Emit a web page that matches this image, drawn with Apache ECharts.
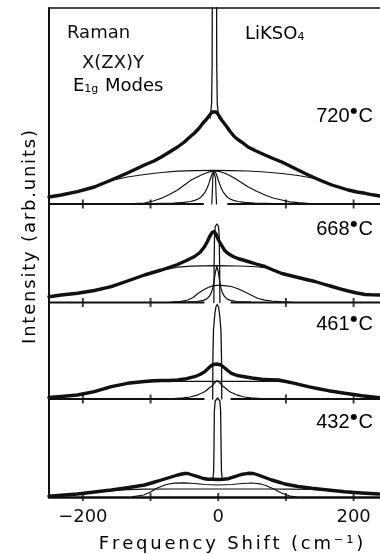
<!DOCTYPE html>
<html>
<head>
<meta charset="utf-8">
<script src="https://cdn.jsdelivr.net/npm/echarts@6/dist/echarts.min.js"></script>
<style>
html, body { margin: 0; padding: 0; background: #fff; }
#chart { width: 380px; height: 554px; }
</style>
</head>
<body>
<div id="chart"></div>
<script>
// Raman spectra of LiKSO4, E1g modes, stacked by temperature.
// Each spectrum is given as [frequency shift (cm-1), intensity above its own baseline].
const temperatures = ['720', '668', '461', '432'];
const baselineOffsets = [293, 194.5, 98, 0];
const baselineGaps = [[-22.5, 14.5], [-21.5, 19.5], [-21.5, 19.5], null];
const baselineTicks = [-200, -100, 100, 200];
const axisTicks = [-200, -100, 0, 100, 200];
const axisLabels = [-200, 0, 200];

// 720 C
const spectrum720 = [[-250,7],[-232,9],[-208,12.3],[-183,17],[-158,24],[-134,31],[-109,39],[-95,43],[-84,47],[-72,52],[-60,57],[-50,62],[-42,67],[-35,71],[-28,76],[-22.5,81],[-17,85],[-12.6,89],[-9,92],[-6.5,94],[-3,92],[0,89.5],[2.2,87],[5,84],[9.6,80],[14,76],[17,73],[24.4,67],[30,64],[36.7,61],[44,57],[56,53],[69,49],[81,45.5],[94,42],[106,38],[118,34],[130,30],[143,26],[155,22.5],[168,19],[180,16.5],[192,14],[205,12],[217,10.7],[228,9.2],[239,8]];
const spike720 = [[-12,86],[-9.8,100],[-9,140],[-8.6,260],[-5.6,262],[-2.6,260],[-2.2,140],[-1.4,100],[0.8,86]];
const broad720 = [[-250,7],[-232,9],[-208,12],[-183,17],[-158,23.5],[-134,27],[-109,29.5],[-84,31.5],[-60,32.8],[-35,33.4],[-6,33.6],[20,33.4],[44,33],[69,32],[94,30.5],[118,28.5],[143,25.5],[155,22],[168,19],[192,14],[217,10.5],[239,8]];
const medium720 = [[-125,0.3],[-109,1],[-96,3],[-84,5.7],[-72,9.5],[-60,14],[-50,19],[-40,24],[-25,29],[-15,31.8],[-6,33],[3,32.3],[9.6,30.7],[17,28.5],[24.4,25.7],[34,21.5],[44,17.3],[56,13],[69,9],[81,6],[94,4],[106,2.2],[118,1.3],[135,0.5],[155,0]];
const narrow720 = [[-96,0.4],[-66,0.9],[-51,1.6],[-41,2.5],[-36,3.3],[-31,4.6],[-26,6.6],[-22,9.5],[-19,12.4],[-16,16.5],[-14,20.1],[-12,24.3],[-9,30.3],[-6,33],[-3,30.3],[0,24.3],[2,20.1],[4,16.5],[7,12.4],[10,9.5],[14,6.6],[19,4.6],[24,3.3],[29,2.5],[39,1.6],[54,0.9],[84,0.4]];
const central720 = [[-9.5,0],[-8.8,10],[-8,26],[-7,32.5],[-6,34.5],[-5,32.5],[-4,26],[-3.2,10],[-2.5,0]];

// 668 C
const spectrum668 = [[-250,5.8],[-232,7.5],[-208,9.2],[-183,12],[-158,15.8],[-134,21.5],[-109,27.5],[-84,32.5],[-60,38],[-47,42],[-35,46],[-27,50],[-20,56],[-16,61],[-12.6,66],[-9,70],[-6,71],[-3,68],[0,63],[2.5,60],[4.7,57.5],[9.6,52],[14.6,49],[22,46],[29,44],[44,41],[56,38.5],[69,36],[81,32.5],[94,29],[106,27],[118,25],[130,23],[143,21],[155,18.5],[168,16],[180,13.7],[192,11.5],[205,9.5],[217,8],[228,7.6],[239,7.5]];
const spike668 = [[-6.5,0],[-6,40],[-5.5,65],[-4.5,76],[-2,78.5],[0.5,76],[1.5,65],[2,40],[2.5,0]];
const broad668 = [[-250,5.8],[-232,7.5],[-208,9.2],[-183,12],[-158,15.8],[-134,21.3],[-109,27],[-84,32],[-60,35.3],[-40,36.3],[-2,36.8],[30,36.5],[50,36],[69,35],[81,32.3],[94,29],[118,25],[143,21],[168,16],[192,11.5],[217,8],[239,7.5]];
const medium668 = [[-70,0.3],[-55,1.2],[-45,2.5],[-37,5],[-30,9],[-22,12.5],[-15,15],[-8,16.6],[-2,17.2],[5,17.2],[12,16.6],[19.5,16],[30,13.5],[44,9],[52,6.3],[59,4],[69,2.3],[79,1.5],[94,0.6],[110,0.2]];
const narrow668 = [[-52,0.4],[-32,1],[-22,2.1],[-17,3.6],[-13,6.2],[-10,10.1],[-8,14.8],[-6,22],[-4,31],[-2,36],[0,31],[2,22],[4,14.8],[6,10.1],[9,6.2],[13,3.6],[18,2.1],[28,1],[48,0.4]];

// 461 C
const spectrum461 = [[-250,1.5],[-232,2.5],[-208,4],[-183,7.3],[-158,12.3],[-134,15.7],[-109,17.5],[-96,18.3],[-84,18.5],[-72,18.5],[-60,19],[-47,20.3],[-35,22.3],[-27,24.5],[-20,27.3],[-15,30.5],[-11,33],[-7,34.5],[-2,35],[4,34],[9.6,31],[14,28.5],[19.5,25.7],[28,23.5],[39,22.3],[50,21],[64,19.7],[76,19.3],[88.6,19],[100,17.5],[113,15.7],[125,13.7],[138,11.7],[150,10],[163,8.3],[175,7],[187,5.7],[200,4.5],[212,3.3],[225,2.2],[239,1.2]];
const spike461 = [[-8.2,0],[-7.9,40],[-7,69],[-5,85],[-3.5,92],[-1.5,94.5],[0.5,92],[2,85],[4,69],[4.9,40],[5.2,0]];
const broad461 = [[-250,1.3],[-232,2.3],[-208,3.8],[-183,7],[-158,12],[-134,15.3],[-109,17],[-84,17.6],[-60,17.6],[-30,17.6],[-1.5,17.6],[30,17.6],[64,17.6],[88,17.5],[100,17],[113,15.5],[125,13.5],[138,11.5],[163,8.1],[187,5.5],[212,3.1],[239,1.1]];
const narrow461 = [[-91.5,0],[-66.5,0.5],[-51.5,1.2],[-41.5,2],[-31.5,3.8],[-27.5,5],[-21.5,6.8],[-17.5,8.5],[-13.5,11],[-9.5,13],[-5.5,16],[-1.5,18.5],[2.5,16],[6.5,13],[10.5,11],[14.5,8.5],[18.5,6.8],[24.5,5],[28.5,3.8],[38.5,2],[48.5,1.2],[63.5,0.5],[88.5,0]];

// 432 C
const spectrum432 = [[-250,0.8],[-232,1.8],[-208,3],[-183,5],[-158,7],[-134,9.3],[-109,12],[-96,14.5],[-84,17],[-72,19.5],[-60,22],[-50,23.5],[-45,23.5],[-38,22],[-30,20.3],[-22,18.5],[-15,17.7],[-8,17.7],[-0.5,17.5],[7,17.7],[15,18.3],[24.4,20.3],[34,22.5],[44,23.7],[52,23.5],[59,22],[69,19.5],[79,17],[89,15],[98.5,13],[118,10.5],[138,8.7],[162,7],[187,5.3],[212,4],[237,3]];
const spike432 = [[-8,17.7],[-6.8,25],[-6.2,50],[-5.8,85],[-4.5,96],[-1,99],[2.5,96],[3.6,85],[4.2,50],[4.8,25],[6,17.7]];
const broad432 = [[-250,0.8],[-232,1.8],[-208,3],[-183,4.8],[-158,6.3],[-134,7.3],[-109,7.8],[-60,8],[0,8],[60,8],[106,7.8],[138,7.5],[162,6.8],[187,5.2],[212,3.9],[237,2.9]];
const hump432 = [[-126,0.3],[-110,2],[-100,5],[-90,9],[-77,12.5],[-65,13.8],[-50,14.2],[-35,13.5],[-20,12.5],[-1,12],[20,12.5],[35,13.5],[50,14],[62,13.2],[72,11],[82,8],[92,4.5],[100,2.3],[106,1],[115,0.2]];

const panels = [
  { spectrum: spectrum720, spike: spike720, components: [broad720, medium720, narrow720, central720] },
  { spectrum: spectrum668, spike: spike668, components: [broad668, medium668, narrow668] },
  { spectrum: spectrum461, spike: spike461, components: [broad461, narrow461] },
  { spectrum: spectrum432, spike: spike432, components: [broad432, hump432] }
];

const X_MIN = -250, X_MAX = 239;
const INK = '#111';

function lift(points, offset) {
  return points.map(function (p) { return [p[0], p[1] + offset]; });
}

function lineSeries(data, width, z) {
  return {
    type: 'line', data: data, showSymbol: false, silent: true, animation: false,
    clip: true, z: z,
    lineStyle: { color: INK, width: width, join: 'round', cap: 'round' }
  };
}

const series = [];
panels.forEach(function (panel, i) {
  const off = baselineOffsets[i];
  // baseline, broken around the central line
  const gap = baselineGaps[i];
  if (gap) {
    series.push(lineSeries([[X_MIN, off], [gap[0], off]], 2, 2));
    series.push(lineSeries([[gap[1], off], [X_MAX, off]], 2, 2));
    series.push({
      type: 'scatter', silent: true, animation: false, z: 3,
      symbol: 'rect', symbolSize: [2, 9],
      itemStyle: { color: INK },
      data: baselineTicks.map(function (x) { return [x, off]; })
    });
  }
  panel.components.forEach(function (c) { series.push(lineSeries(lift(c, off), 1.2, 4)); });
  series.push(lineSeries(lift(panel.spike, off), 1.3, 5));
  series.push(lineSeries(lift(panel.spectrum, off), 3.4, 6));
});
// ticks on the frequency axis
series.push({
  type: 'scatter', silent: true, animation: false, z: 3,
  symbol: 'rect', symbolSize: [2, 8],
  itemStyle: { color: INK },
  data: axisTicks.map(function (x) { return [x, 0]; })
});

// letter-spaced rich text
function spaced(str, key) {
  return str.split('').map(function (ch) { return '{' + key + '|' + ch + '}'; }).join('');
}

const FONT = '"DejaVu Sans", sans-serif';
const tempRich = {
  n: { fontFamily: '"Liberation Sans", sans-serif', fontSize: 20, color: INK },
  d: { fontFamily: '"DejaVu Sans", sans-serif', fontSize: 8, color: INK, padding: [0, 1, 11, 1] }
};
const tempLabelY = [116.5, 229.5, 324.5, 422.5];

const graphics = [
  { type: 'text', x: 67, y: 33.5, style: { text: 'Raman', font: '18px ' + FONT, fill: INK, textVerticalAlign: 'middle' } },
  { type: 'text', x: 82, y: 63.5, style: { text: 'X(ZX)Y', font: '18px ' + FONT, fill: INK, textVerticalAlign: 'middle' } },
  { type: 'text', x: 73, y: 86.5, style: {
      text: '{b|E}{s|1g}{b| Modes}', textVerticalAlign: 'middle',
      rich: { b: { fontFamily: FONT, fontSize: 18, color: INK }, s: { fontFamily: FONT, fontSize: 11, color: INK, padding: [6, 1, 0, 0] } }
  } },
  { type: 'text', x: 245, y: 34, style: {
      text: '{b|LiKSO}{s|4}', textVerticalAlign: 'middle',
      rich: { b: { fontFamily: FONT, fontSize: 18, color: INK }, s: { fontFamily: FONT, fontSize: 11, color: INK, padding: [6, 0, 0, 0] } }
  } },
  { type: 'text', x: 30, y: 237, rotation: Math.PI / 2, style: {
      text: spaced('Intensity (arb.units)', 'c'), textAlign: 'center', textVerticalAlign: 'middle',
      rich: { c: { fontFamily: FONT, fontSize: 18, color: INK, padding: [0, 0.9, 0, 0.9] } }
  } },
  { type: 'text', x: 231, y: 544, style: {
      text: spaced('Frequency Shift (cm⁻¹)', 'c'), textAlign: 'center', textVerticalAlign: 'middle',
      rich: { c: { fontFamily: FONT, fontSize: 18, color: INK, padding: [0, 1.4, 0, 1.4] } }
  } }
];
temperatures.forEach(function (t, i) {
  graphics.push({ type: 'text', x: 373, y: tempLabelY[i], style: {
    text: '{n|' + t + '}{d|●}{n|C}', textAlign: 'right', textVerticalAlign: 'middle', rich: tempRich
  } });
});

const chart = echarts.init(document.getElementById('chart'), null, { renderer: 'canvas' });
chart.setOption({
  animation: false,
  backgroundColor: '#fff',
  grid: { left: 49, right: 0, top: 8, bottom: 57, containLabel: false, outerBoundsMode: 'none' },
  xAxis: [
    {
      type: 'value', min: X_MIN, max: X_MAX, position: 'bottom',
      axisLine: { show: true, onZero: false, lineStyle: { color: INK, width: 2.5 } },
      axisTick: { show: false },
      splitLine: { show: false },
      axisLabel: { show: true, customValues: axisLabels, margin: 11, color: INK, fontFamily: FONT, fontSize: 18,
        formatter: function (v) { return v < 0 ? '\u2212' + Math.abs(v) : String(v); } }
    },
    {
      type: 'value', min: X_MIN, max: X_MAX, position: 'top',
      axisLine: { show: true, onZero: false, lineStyle: { color: INK, width: 1.5 } },
      axisTick: { show: false }, axisLabel: { show: false }, splitLine: { show: false }
    }
  ],
  yAxis: {
    type: 'value', min: 0, max: 489,
    axisLine: { show: true, onZero: false, lineStyle: { color: INK, width: 2 } },
    axisTick: { show: false }, axisLabel: { show: false }, splitLine: { show: false }
  },
  series: series,
  graphic: graphics
});
</script>
</body>
</html>
